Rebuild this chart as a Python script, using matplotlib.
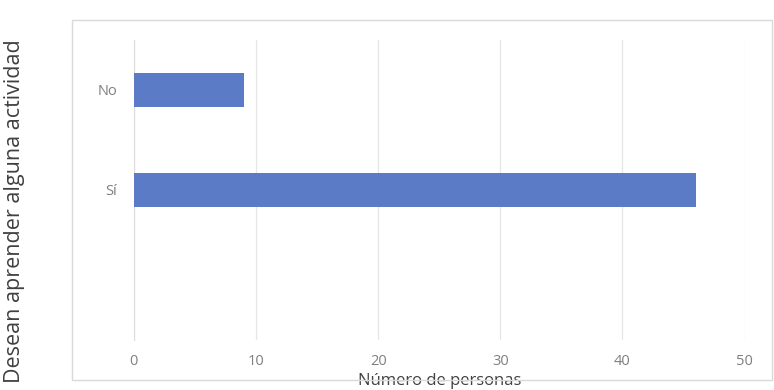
import matplotlib
matplotlib.use('Agg')
import matplotlib.pyplot as plt
from matplotlib.patches import Rectangle

categories = ['No', 'Sí']
values = [9, 46]
xticks = [0, 10, 20, 30, 40, 50]

plt.rcParams['font.family'] = ['Open Sans', 'DejaVu Sans']

fig = plt.figure(figsize=(7.74, 3.9), dpi=100)
ax = fig.add_axes([0.173, 0.128, 0.789, 0.77])

# chart frame
fig.patches.append(Rectangle((0.093, 0.026), 0.905, 0.924, transform=fig.transFigure,
                             fill=False, edgecolor='#d9d9d9', linewidth=1.0))

ypos = list(range(len(categories)))
ax.barh(ypos, values, height=0.34, color='#5b7bc6', zorder=3)

ax.set_xlim(0, 50)
ax.set_ylim(2.5, -0.5)
ax.set_xticks(xticks)
ax.set_yticks(ypos)
ax.set_yticklabels(categories)
ax.grid(axis='x', color='#e6e6e6', linewidth=0.9, zorder=0)
for s in ['top', 'right', 'bottom']:
    ax.spines[s].set_visible(False)
ax.spines['left'].set_color('#dcdcdc')
ax.tick_params(axis='both', length=0, colors='#7f7f7f', labelsize=10.5)
ax.tick_params(axis='x', pad=10)
ax.tick_params(axis='y', pad=12)

ax.set_xlabel('Número de personas', fontsize=12, color='#404040', va='center')
ax.xaxis.set_label_coords(0.5, -0.135)
ax.set_ylabel('Desean aprender alguna actividad', fontsize=15.5, color='#404040', va='center')
ax.yaxis.set_label_coords(-0.195, 0.43)

fig.savefig('out.png', dpi=100)
